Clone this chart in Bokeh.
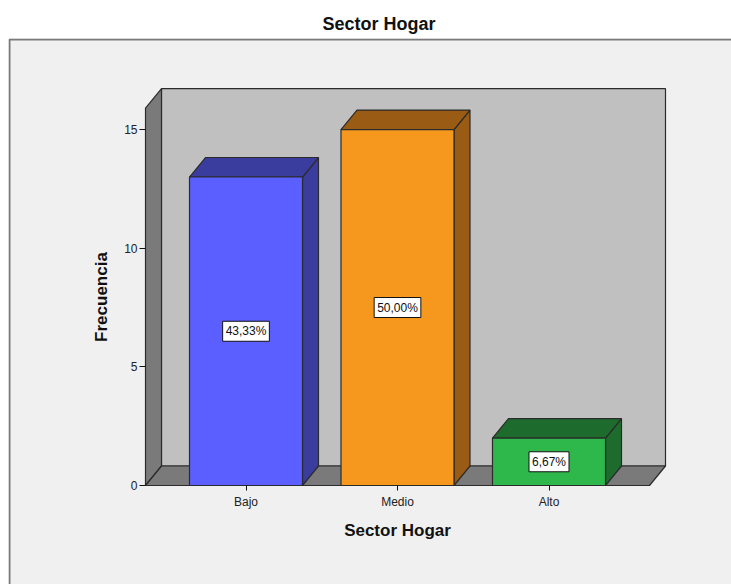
from bokeh.plotting import figure
from bokeh.models import FixedTicker, Range1d
from bokeh.core.properties import value
from bokeh.embed import file_html
from bokeh.resources import INLINE

# --- data -------------------------------------------------------------
categories = ["Bajo", "Medio", "Alto"]
counts = [13, 15, 2]
front_colors = ["#5B5FFF", "#F7981E", "#2EB84B"]
shade_colors = ["#3A3D9E", "#9A5B14", "#1D6C2D"]
y_ticks = [0, 5, 10, 15]

total = sum(counts)
pct_labels = [f"{c / total * 100:.2f}%".replace(".", ",") for c in counts]

# --- layout (pixels) --------------------------------------------------
W, H = 731, 584
FRAME_L, FRAME_T = 8, 38
X0_PX, X_STEP_PX = 245.5, 151.5      # first category centre, spacing
Y0_PX, Y_UNIT_PX = 485.0, 23.73      # baseline, pixels per count
DEPTH_X_PX, DEPTH_Y_PX = 16.0, 19.5  # 3D depth offset
WALL_PX, FLOOR_RIGHT_PX = 145.0, 649.0
BAR_PX = 113.0
WALL_TOP = 15.9
TITLE_OFFSET = 314

def px_x(px):
    return (px - X0_PX) / X_STEP_PX

x_start, x_end = px_x(FRAME_L), px_x(W)
y_start = -(H - Y0_PX) / Y_UNIT_PX
y_end = (Y0_PX - FRAME_T) / Y_UNIT_PX
dx = DEPTH_X_PX / X_STEP_PX
dy = DEPTH_Y_PX / Y_UNIT_PX
wall_x = px_x(WALL_PX)
floor_r = px_x(FLOOR_RIGHT_PX)
bar_w = BAR_PX / X_STEP_PX
n = len(categories)

FONT = "Liberation Sans"
EDGE = "#2B2B2B"

p = figure(width=W, height=H,
           x_range=Range1d(x_start, x_end), y_range=Range1d(y_start, y_end),
           output_backend="svg", toolbar_location=None,
           min_border_left=FRAME_L, min_border_top=FRAME_T,
           min_border_right=0, min_border_bottom=0,
           background_fill_color="#F0F0F0", border_fill_color="white",
           outline_line_color=None, title="Sector Hogar")
p.grid.visible = False

p.title.align = "left"
p.title.offset = TITLE_OFFSET
p.title.text_font = FONT
p.title.text_font_size = "18px"
p.title.text_font_style = "bold"
p.title.text_color = "#111111"

# frame border (top and left edges of the chart area)
bx = x_start + 1.0 / X_STEP_PX
by = y_end - 1.0 / Y_UNIT_PX
p.line([bx, bx, x_end], [y_start, by, by], line_color="#7A7A7A", line_width=2)

# back wall, left wall and floor of the 3D box
p.patches(
    xs=[[wall_x + dx, floor_r + dx, floor_r + dx, wall_x + dx],
        [wall_x, wall_x + dx, wall_x + dx, wall_x],
        [wall_x, floor_r, floor_r + dx, wall_x + dx]],
    ys=[[dy, dy, WALL_TOP + dy, WALL_TOP + dy],
        [0, dy, WALL_TOP + dy, WALL_TOP],
        [0, 0, dy, dy]],
    fill_color=["#C0C0C0", "#7A7A7A", "#7A7A7A"],
    line_color=EDGE, line_width=1.2)

# bars: side face, top face, then front face
side_xs, side_ys, top_xs, top_ys = [], [], [], []
for i, v in enumerate(counts):
    l, r = i - bar_w / 2, i + bar_w / 2
    side_xs.append([r, r + dx, r + dx, r])
    side_ys.append([0, dy, v + dy, v])
    top_xs.append([l, r, r + dx, l + dx])
    top_ys.append([v, v, v + dy, v + dy])
p.patches(xs=side_xs, ys=side_ys, fill_color=shade_colors,
          line_color=EDGE, line_width=1.2)
p.patches(xs=top_xs, ys=top_ys, fill_color=shade_colors,
          line_color=EDGE, line_width=1.2)
p.vbar(x=list(range(n)), top=counts, bottom=0, width=bar_w,
       fill_color=front_colors, line_color=EDGE, line_width=1.2)

# percentage labels in the middle of each bar
p.text(x=list(range(n)), y=[c / 2 for c in counts], text=pct_labels,
       text_align="center", text_baseline="middle",
       text_font=value(FONT), text_font_size="12px", text_color="#111111",
       background_fill_color="white", border_line_color="#111111",
       border_line_width=1, padding=3)

# axes
ya = p.yaxis[0]
ya.fixed_location = wall_x
ya.bounds = (0, WALL_TOP)
ya.ticker = FixedTicker(ticks=y_ticks)
ya.axis_line_color = None
ya.major_tick_out = 6
ya.major_tick_in = 0
ya.minor_tick_out = 0
ya.minor_tick_in = 0
ya.major_tick_line_color = "#111111"
ya.major_label_text_font = FONT
ya.major_label_text_font_size = "12px"
ya.major_label_text_color = "#222222"
ya.major_label_standoff = 2
ya.axis_label = "Frecuencia"
ya.axis_label_text_font = FONT
ya.axis_label_text_font_size = "17px"
ya.axis_label_text_font_style = "bold"
ya.axis_label_text_color = "#111111"
ya.axis_label_standoff = 10

xa = p.xaxis[0]
xa.fixed_location = 0
xa.bounds = (-0.5, n - 0.5)
xa.ticker = FixedTicker(ticks=list(range(n)))
xa.major_label_overrides = {i: c for i, c in enumerate(categories)}
xa.axis_line_color = None
xa.major_tick_out = 5
xa.major_tick_in = 0
xa.minor_tick_out = 0
xa.minor_tick_in = 0
xa.major_tick_line_color = "#111111"
xa.major_label_text_font = FONT
xa.major_label_text_font_size = "12px"
xa.major_label_text_color = "#222222"
xa.major_label_standoff = 4
xa.axis_label = "Sector Hogar"
xa.axis_label_text_font = FONT
xa.axis_label_text_font_size = "17px"
xa.axis_label_text_font_style = "bold"
xa.axis_label_text_color = "#111111"
xa.axis_label_standoff = 9

open("out.html", "w").write(file_html(p, INLINE))
